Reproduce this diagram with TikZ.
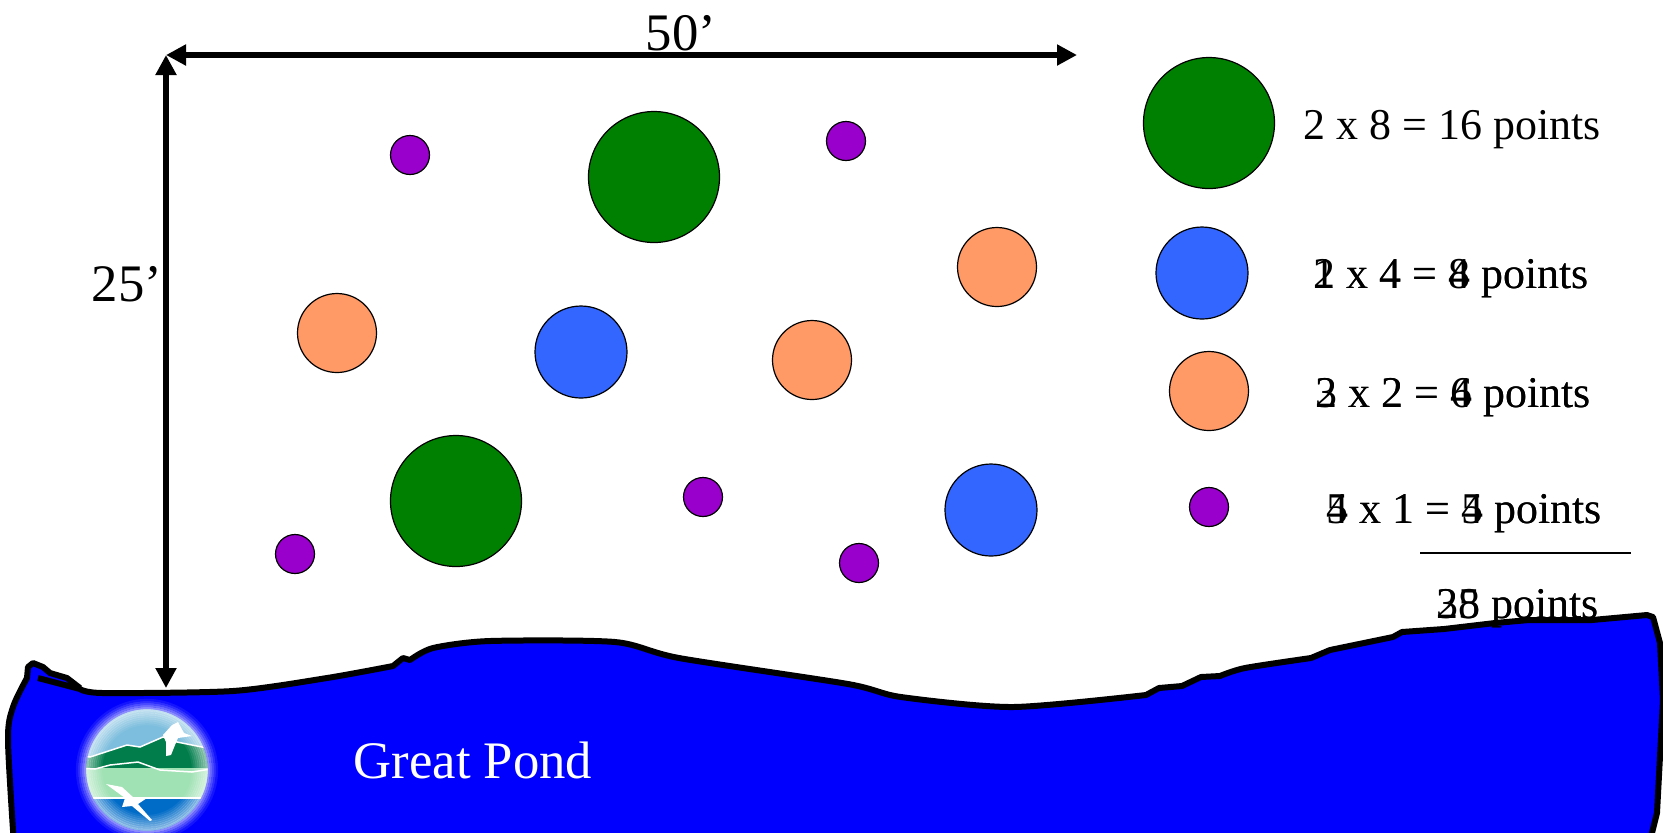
\documentclass[tikz,border=0pt]{standalone}
\usepackage{fontspec}
\setmainfont{Liberation Serif}
\usetikzlibrary{arrows.meta,positioning}
\definecolor{bigclr}{RGB}{0,128,0}
\definecolor{medclr}{RGB}{51,102,255}
\definecolor{smlclr}{RGB}{255,153,102}
\definecolor{tinyclr}{RGB}{153,0,204}
\definecolor{skyclr}{RGB}{125,190,222}
\definecolor{hillclr}{RGB}{0,125,75}
\definecolor{flatclr}{RGB}{160,226,180}
\definecolor{deepclr}{RGB}{0,108,200}
\tikzset{
  plant/.style={circle,draw=black,line width=0.12mm,inner sep=0pt},
  bigplant/.style={plant,fill=bigclr,minimum size=13.1mm},
  medplant/.style={plant,fill=medclr,minimum size=9.2mm},
  smlplant/.style={plant,fill=smlclr,minimum size=7.9mm},
  tinyplant/.style={plant,fill=tinyclr,minimum size=3.9mm},
  dimarr/.style={>={Triangle[length=2mm,width=2mm]},<->,line width=0.65mm},
  lbl/.style={font=\fontsize{12.5}{15}\selectfont,inner sep=0pt,anchor=base west},
  biglbl/.style={font=\fontsize{15}{18}\selectfont,inner sep=0pt},
  shore/.style={draw=black,line width=0.6mm,line join=round,fill=blue}
}

\begin{document}
\begin{tikzpicture}[x=0.1mm,y=-0.1mm]
  \useasboundingbox (0,0) rectangle (1663,832);
  % Water
  \path[shore] (38,678) -- (80,689)
    -- plot[smooth,tension=0.45] coordinates {(80,689) (103,693) (233,691) (327,678) (393,666)}
    -- (403,658) -- (410,660)
    -- plot[smooth,tension=0.45] coordinates {(410,660) (433,648) (490,641) (615,642) (679,658) (848,684) (901,697) (1013,707) (1146,695)}
    -- (1159,688) -- (1182,686) -- (1201,677) -- (1220,676)
    -- plot[smooth,tension=0.45] coordinates {(1220,676) (1245,668) (1311,658)}
    -- (1330,650) -- (1393,637) -- (1402,632) -- (1444,629) -- (1495,623) -- (1529,620) -- (1592,620) -- (1647,615)
    -- (1653,617) -- (1660,643) -- (1663,700) -- (1657,813) -- (1649,845) -- (14,845)
    -- plot[smooth,tension=0.5] coordinates {(14,845) (8,740) (13,707) (27,678)}
    -- (28,667) -- (33,663) -- (43,667) -- (50,673) -- (67,678) -- (80,688);

  % Logo
  \begin{scope}
    \clip (147,770) circle (62);
    \fill[skyclr] (70,700) rectangle (225,760);
    \fill[hillclr] (77,755) -- (90,757) -- (127,745) -- (140,747) -- (163,737) -- (177,742) -- (217,750) -- (217,770) -- (77,770) -- cycle;
    \draw[white,line width=0.15mm] (77,755) -- (90,757) -- (127,745) -- (140,747) -- (163,737) -- (177,742) -- (217,750);
    \fill[flatclr] (77,768) rectangle (217,800);
    \draw[white,line width=0.15mm] (77,768) -- (95,769) -- (110,765) -- (138,762) -- (160,770) -- (192,772) -- (217,768);
    \fill[deepclr] (77,797) rectangle (217,835);
    \draw[white,line width=0.15mm] (90,798) -- (205,798);
  \end{scope}
  \foreach \r in {46,48,...,60}
    \draw[white,opacity={(\r-44)/30},line width=0.22mm] (147,770) circle (\r);
  \foreach \r/\m in {62/55,64/42,66/30,68/18,70/8}
    \draw[white!\m!blue,line width=0.22mm] (147,770) circle (\r);
  % Birds
  \fill[white] (163,735) -- (172,725) -- (178,722) -- (184,733) -- (192,736) -- (178,738) -- (175,745) -- (171,755) -- (166,756) -- (166,742) -- cycle;
  \fill[white] (106,784) -- (122,787) -- (134,798) -- (147,798) -- (138,804) -- (152,820) -- (150,821) -- (132,806) -- (122,807) -- (125,798) -- cycle;

  % Dimensions
  \coordinate (corner) at (166,55);
  \coordinate (wide) at (1077,55);
  \coordinate (deep) at (166,688);
  \draw[dimarr] (corner) -- (wide);
  \draw[dimarr] (corner) -- (deep);
  \node[biglbl] (lbl50) at (681,33) {50’};
  \node[biglbl] (lbl25) at (127,284) {25’};
  \node[biglbl,text=white] (pond) at (473,760) {Great Pond};

  % Plants
  \node[bigplant] (g1) at (654,177) {};
  \node[bigplant] (g2) at (456,501) {};
  \node[medplant] (b1) at (581,352) {};
  \node[medplant] (b2) at (991,510) {};
  \foreach \n/\x/\y in {1/997/267,2/337/333,3/812/360}
    \node[smlplant] (o\n) at (\x,\y) {};
  \foreach \n/\x/\y in {1/410/155,2/846/141,3/703/497,4/295/554,5/859/563}
    \node[tinyplant] (p\n) at (\x,\y) {};

  % Key
  \node[bigplant] (keyg) at (1209,123) {};
  \node[medplant] (keyb) at (1202,273) {};
  \node[smlplant] (keyo) at (1209,391) {};
  \node[tinyplant] (keyp) at (1209,507) {};
  \node[lbl] (rowg) at (1303,139) {2 x 8 = 16 points};
  \node[lbl] (rowb) at (1313,288) {1 x 4 = 4 points};
  \node[lbl] (rowbb) at (1313,288) {2 x 4 = 8 points};
  \node[lbl] (rowo) at (1315,407) {3 x 2 = 6 points};
  \node[lbl] (rowoo) at (1315,407) {2 x 2 = 4 points};
  \node[lbl] (rowp) at (1326,523) {5 x 1 = 5 points};
  \node[lbl] (rowpp) at (1326,523) {4 x 1 = 4 points};
  \coordinate (sumL) at (1420,553);
  \coordinate (sumR) at (1631,553);
  \draw[line width=0.15mm] (sumL) -- (sumR);
  \node[lbl] (tot) at (1436,618) {28 points};
  \node[lbl] (tott) at (1436,618) {35 points};
\end{tikzpicture}
\end{document}
